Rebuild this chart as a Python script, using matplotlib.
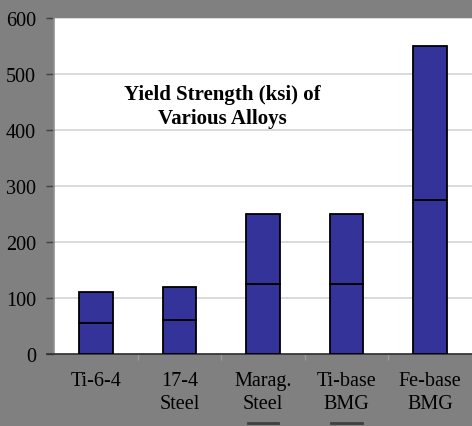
import matplotlib
matplotlib.use("Agg")
import matplotlib.pyplot as plt
from matplotlib.lines import Line2D

# Datos (ksi)
alloys = ["Ti-6-4", "17-4\nSteel", "Marag.\nSteel", "Ti-base\nBMG", "Fe-base\nBMG"]
lower_half = [55, 60, 125, 125, 275]
upper_half = [55, 60, 125, 125, 275]
y_ticks = [0, 100, 200, 300, 400, 500, 600]

bar_color = "#333399"
bg_color = "#808080"

plt.rcParams["font.family"] = ["Liberation Serif", "DejaVu Serif"]

fig = plt.figure(figsize=(4.72, 4.27), dpi=100, facecolor=bg_color)
ax = fig.add_axes([54 / 472, 72 / 427, 418 / 472, 336 / 427])
ax.set_facecolor("white")

x = list(range(len(alloys)))
ax.bar(x, lower_half, width=0.4, color=bar_color, edgecolor="black", linewidth=1.3, zorder=3)
ax.bar(x, upper_half, width=0.4, bottom=lower_half, color=bar_color,
       edgecolor="black", linewidth=1.3, zorder=3)

ax.set_xlim(-0.5, len(alloys) - 0.5)
ax.set_ylim(0, 600)
ax.set_yticks(y_ticks)
ax.yaxis.grid(True, color="#d4d4d4", linewidth=1.2, zorder=0)
ax.tick_params(axis="y", labelsize=14.5, length=6, width=1, color="#404040",
               pad=7, labelcolor="black")

ax.set_xticks(x)
ax.set_xticklabels(alloys, fontsize=14.5, linespacing=1.3)
ax.tick_params(axis="x", which="major", length=0, pad=12)
ax.set_xticks([i + 0.5 for i in x[:-1]], minor=True)
ax.tick_params(axis="x", which="minor", length=4, width=1, color="#9a9a9a")

for side in ["top", "right"]:
    ax.spines[side].set_visible(False)
ax.spines["left"].set_color("#909090")
ax.spines["left"].set_linewidth(1.2)
ax.spines["bottom"].set_color("#303030")
ax.spines["bottom"].set_linewidth(1.2)
ax.spines["bottom"].set_bounds(-0.58, len(alloys) - 0.5)
ax.spines["bottom"].set_clip_on(False)

ax.text(0.402, 0.738, "Yield Strength (ksi) of\nVarious Alloys", transform=ax.transAxes,
        ha="center", va="center", fontsize=15, fontweight="bold", linespacing=1.25)

# restos de la leyenda cortada en el borde inferior
for x0, x1 in [(248, 278), (331, 362)]:
    fig.add_artist(Line2D([x0 / 472, x1 / 472], [3.5 / 427, 3.5 / 427],
                          color="#404040", linewidth=2))

fig.savefig("out.png", dpi=100, facecolor=bg_color)
